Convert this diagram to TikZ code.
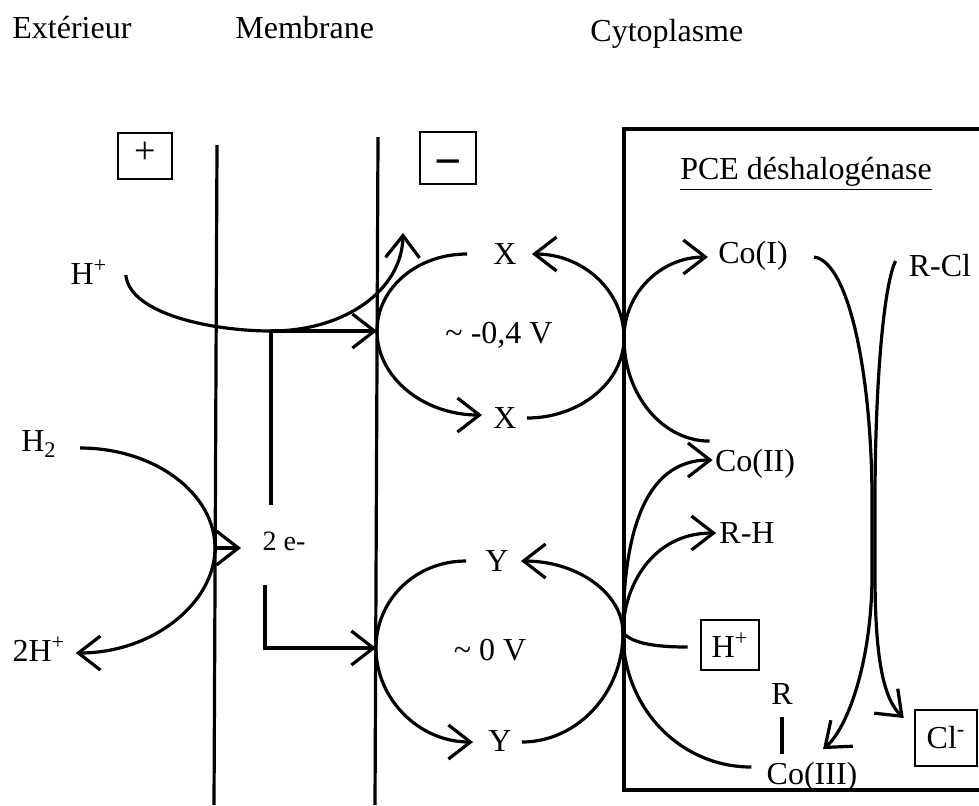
\documentclass[tikz,border=0pt]{standalone}
\usepackage{fontspec}
\setmainfont{Liberation Serif}
\usetikzlibrary{arrows.meta,calc}
\tikzset{
  curveLine/.style={line width=1.6pt},
  curveArrow/.style={curveLine,-{Straight Barb[length=11pt,width=17pt,line width=1.6pt]}},
  ionBox/.style={draw,line width=1.3pt,minimum width=29pt,minimum height=25pt,inner sep=1pt}
}

\begin{document}
\begin{tikzpicture}[x=0.5pt,y=-0.5pt,inner sep=0pt,font=\fontsize{16}{19}\selectfont]
        \useasboundingbox (0,0) rectangle (979,805);
        \clip (0,0) rectangle (979,805);
        \node[anchor=base west] (ext) at (12,38) {Extérieur};
        \node[anchor=base west] (mem) at (235,38) {Membrane};
        \node[anchor=base west] (cyt) at (590,41) {Cytoplasme};
        \node[ionBox,minimum width=27pt,minimum height=23pt] (pos) at (145,156) {\fontsize{19}{19}\selectfont\strut +};
        \node[ionBox,minimum width=28pt,minimum height=25pt] (neg) at (448,158) {\fontsize{24}{24}\selectfont\bfseries\strut\raisebox{-5pt}{−}};
        \draw[curveLine] (217,145) -- (214,805);
        \draw[curveLine] (378,137) -- (375,805);
        \draw[curveLine] (624,129) rectangle (1000,790);
        \node (pce) at (806,174) {\underline{PCE déshalogénase}};
        \coordinate (mXL) at (377,331);
        \coordinate (mXR) at (624,338);
        \coordinate (mYL) at (376,648);
        \coordinate (mYR) at (623,633);
        \coordinate (jH) at (271,331);
        \coordinate (eTop) at (271,505);
        \coordinate (eBot) at (265,585);
        \coordinate (mH) at (215,548);
        \coordinate (hOut) at (403,233);
        \node (hp) at (89,272) {H\textsuperscript{+}};
        \node (h2) at (39,444) {H\textsubscript{2}};
        \node (hh) at (39,649) {2H\textsuperscript{+}};
        \node[font=\fontsize{14}{16}\selectfont] (e2) at (284,541) {2 e-};
        \node (xT) at (505,254) {X};
        \node (xB) at (505,418) {X};
        \node (vX) at (499,335) {\textasciitilde{} -0,4 V};
        \node (yT) at (497,561) {Y};
        \node (yB) at (500,741) {Y};
        \node (vY) at (490,650) {\textasciitilde{} 0 V};
        \node (co1) at (753,256) {Co(I)};
        \node (co2) at (755,464) {Co(II)};
        \node (rh) at (747,533) {R-H};
        \node[ionBox] (hb) at (730,645) {H\textsuperscript{+}};
        \node (co3) at (812,777) {Co(III)};
        \node (r) at (782,694) {R};
        \node (rcl) at (940,266) {R-Cl};
        \node[ionBox,minimum width=31pt,minimum height=28pt] (cl) at (946,738) {Cl\textsuperscript{-}};
        \draw[curveArrow] ($(hp.east)+(18,3)$) .. controls (130,315) and (215,331) .. (jH) .. controls (345,331) and (402,290) .. (hOut);
        \draw[curveArrow] (jH) -- (mXL);
        \draw[curveLine] (jH) -- (eTop);
        \draw[curveArrow] (eBot) |- (mYL);
        \draw[curveArrow] ($(h2.east)+(23,4)$) .. controls +(74,0) and +(0,-55) .. (mH) .. controls +(0,55) and +(77,0) .. ($(hh.east)+(10,4)$);
        \draw[curveArrow] (mH) -- ++(26,0);
        \draw[curveArrow] ($(xT.west)+(-26,0)$) .. controls +(-50,0) and +(0,-43) .. (mXL) .. controls +(0,47) and +(-58,0) .. ($(xB.west)+(-11,-3)$);
        \draw[curveArrow] ($(xB.east)+(10,0)$) .. controls +(53,0) and +(0,44) .. (mXR) .. controls +(0,-47) and +(51,0) .. ($(xT.east)+(15,0)$);
        \draw[curveArrow] ($(yT.west)+(-19,0)$) .. controls +(-51,0) and +(0,-48) .. (mYL) .. controls +(0,51) and +(-54,0) .. ($(yB.west)+(-15,1)$);
        \draw[curveArrow] ($(yB.east)+(10,1)$) .. controls +(55,0) and +(0,60) .. (mYR) .. controls +(0,-40) and +(56,0) .. ($(yT.east)+(12,0)$);
        \draw[curveArrow] ($(co2.north west)+(-5,-8)$) .. controls +(-47,0) and +(0,57) .. (mXR) .. controls +(0,-45) and +(-47,0) .. ($(co1.west)+(-10,1)$);
        \draw[curveArrow] (mYR) .. controls +(0,-95) and +(-70,0) .. ($(co2.west)+(-2,-4)$);
        \draw[curveArrow] (mYR) .. controls +(0,-45) and +(-65,0) .. ($(rh.west)+(-3,0)$);
        \draw[curveLine] (mYR) .. controls +(10,10) and +(-35,0) .. ($(hb.west)+(-12,2)$);
        \draw[curveLine] (mYR) .. controls +(0,74) and +(-72,0) .. ($(co3.west)+(-15,-10)$);
        \draw[curveLine] ($(r.south)+(0,12)$) -- ++(0,37);
        \draw[curveArrow] ($(co1.east)+(26,1)$) .. controls (850,262) and (872,380) .. (872,500) -- (872,575) .. controls (872,660) and (848,728) .. ($(co3.north)+(11,-13)$);
        \draw[curveArrow] ($(rcl.west)+(-13,-5)$) .. controls (882,290) and (875,400) .. (875,500) -- (875,575) .. controls (875,665) and (885,700) .. ($(cl.west)+(-10,-20)$);
      \end{tikzpicture}
\end{document}
